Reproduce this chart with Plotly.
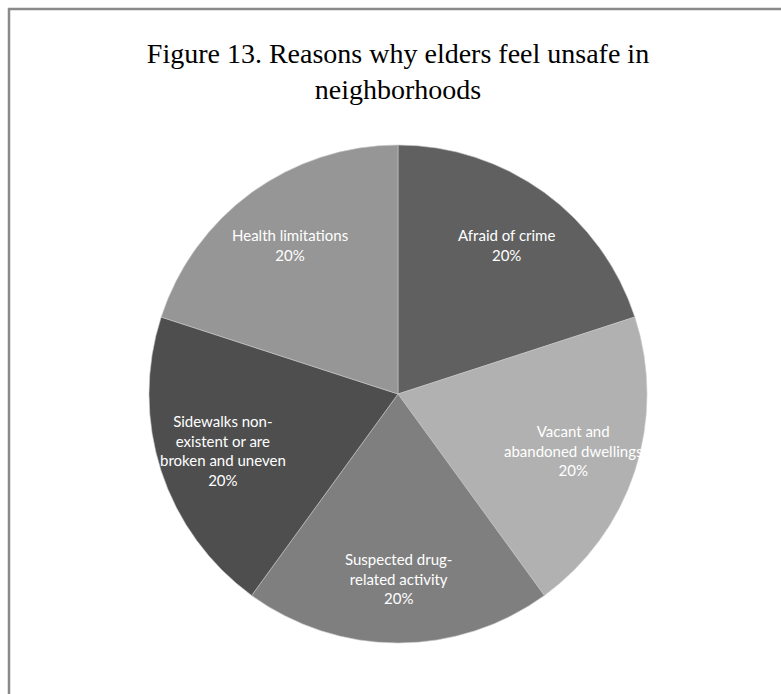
import math
import plotly.graph_objects as go

# Data
categories = [
    "Afraid of crime",
    "Vacant and<br>abandoned dwellings",
    "Suspected drug-<br>related activity",
    "Sidewalks non-<br>existent or are<br>broken and uneven",
    "Health limitations",
]
values = [20, 20, 20, 20, 20]
slice_colors = ["#606060", "#b1b1b1", "#7f7f7f", "#4e4e4e", "#969696"]

W, H = 781, 694
# pie placement (pixels)
CX, CY, R = 398, 394, 249
LABEL_FRAC = 0.74

fig = go.Figure(
    go.Pie(
        labels=categories,
        values=values,
        sort=False,
        direction="clockwise",
        rotation=0,
        marker=dict(colors=slice_colors, line=dict(color="#c8c8c8", width=0.6)),
        textinfo="none",
        showlegend=False,
        hoverinfo="label+percent",
        domain=dict(x=[(CX - R) / W, (CX + R) / W], y=[1 - (CY + R) / H, 1 - (CY - R) / H]),
    )
)

# data labels placed along each slice's bisector (derived from the values)
total = sum(values)
cum = 0
annotations = []
for lab, v in zip(categories, values):
    frac = (cum + v / 2) / total
    cum += v
    theta = 2 * math.pi * frac
    px = CX + LABEL_FRAC * R * math.sin(theta)
    py = CY - LABEL_FRAC * R * math.cos(theta)
    annotations.append(
        dict(
            x=px / W,
            y=1 - py / H,
            xref="paper",
            yref="paper",
            text=f"{lab}<br>{round(100 * v / total)}%",
            showarrow=False,
            xanchor="center",
            yanchor="middle",
            align="center",
            font=dict(family="Lato, Open Sans, sans-serif", size=15, color="white"),
        )
    )

fig.update_layout(
    width=W,
    height=H,
    margin=dict(l=0, r=0, t=0, b=0),
    paper_bgcolor="white",
    plot_bgcolor="white",
    title=dict(
        text="Figure 13. Reasons why elders feel unsafe in<br>neighborhoods",
        x=398 / W,
        xanchor="center",
        y=1 - 63 / H,
        yanchor="top",
        font=dict(family="Liberation Serif, Times New Roman, serif", size=28, color="black"),
    ),
    annotations=annotations,
    shapes=[
        dict(
            type="rect",
            xref="paper",
            yref="paper",
            x0=9 / W,
            x1=1.02,
            y0=-0.02,
            y1=1 - 9 / H,
            line=dict(color="#8a8a8a", width=2.5),
            fillcolor="rgba(0,0,0,0)",
            layer="above",
        )
    ],
)

fig.write_html(
    "out.html",
    config={"displayModeBar": False},
    post_script="document.body.style.margin='0';document.body.style.overflow='hidden';",
)
